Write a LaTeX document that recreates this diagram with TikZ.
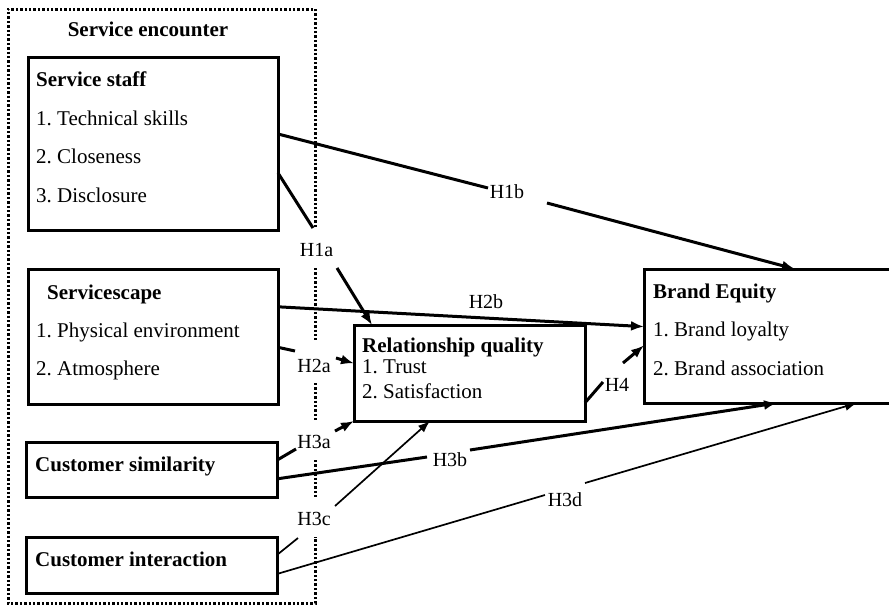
\documentclass[tikz,border=0pt]{standalone}
\usepackage{fontspec}
\setmainfont{Liberation Serif}
\usetikzlibrary{calc,arrows.meta}
\frenchspacing
\begin{document}
\begin{tikzpicture}[x=1pt,y=-1pt,
  every node/.style={font=\fontsize{21}{25}\selectfont},
  box/.style={draw, line width=3pt, inner sep=0pt, outer sep=0pt, anchor=north west},
  txt/.style={anchor=base west, inner sep=0pt},
  btxt/.style={anchor=base west, inner sep=0pt, font=\fontsize{21}{25}\selectfont\bfseries},
  lab/.style={inner sep=1pt, font=\fontsize{20}{24}\selectfont},
  frame/.style={line width=3pt, dash pattern=on 2.4pt off 2pt},
  thickc/.style={line width=3pt},
  thinc/.style={line width=1.7pt},
  arr/.style={-{Latex[length=13pt,width=10pt]}},
  tarr/.style={-{Latex[length=12pt,width=9pt]}}
]
\useasboundingbox (0,0) rectangle (889,606);

% Service encounter frame
\draw[frame] (315,227) -- (315,9) -- (8,9) -- (8,603) -- (315,603) -- (315,537);
\draw[frame] (315,268) -- (315,340);
\draw[frame] (315,383) -- (315,420);
\draw[frame] (315,460) -- (315,497);
\node[anchor=base, inner sep=0pt, font=\fontsize{21}{25}\selectfont\bfseries] (enc) at (148,36) {Service encounter};

% Boxes
\node[box, minimum width=250pt, minimum height=173pt] (ss) at (28,57) {};
\node[box, minimum width=250pt, minimum height=135pt] (sc) at (28,269) {};
\node[box, minimum width=251pt, minimum height=55pt] (cs) at (26,442) {};
\node[box, minimum width=251pt, minimum height=56pt] (ci) at (26,537) {};
\node[box, minimum width=231pt, minimum height=96pt] (rq) at (354,325) {};
\node[box, draw=none, minimum width=260pt, minimum height=134pt] (be) at (644,269) {};
\draw[line width=3pt] (be.north east) -- (be.north west) -- (be.south west) -- (be.south east);

% Box texts
\node[btxt] (ssT) at (36,86) {Service staff};
\node[txt] (ss1) at (36,125) {1. Technical skills};
\node[txt] (ss2) at (36,163) {2. Closeness};
\node[txt] (ss3) at (36,202) {3. Disclosure};

\node[btxt] (scT) at (47,299) {Servicescape};
\node[txt] (sc1) at (36,337) {1. Physical environment};
\node[txt] (sc2) at (36,375) {2. Atmosphere};

\node[btxt] (csT) at (35,471) {Customer similarity};
\node[btxt] (ciT) at (35,566) {Customer interaction};

\node[btxt] (rqT) at (362,352) {Relationship quality};
\node[txt] (rq1) at (362,373) {1. Trust};
\node[txt] (rq2) at (362,398) {2. Satisfaction};

\node[btxt] (beT) at (653,298) {Brand Equity};
\node[txt] (be1) at (653,336) {1. Brand loyalty};
\node[txt] (be2) at (653,375) {2. Brand association};

% Labels
\node[lab] (h1a) at (316.5,250) {H1a};
\node[lab] (h1b) at (507,192) {H1b};
\node[lab] (h2a) at (314,366) {H2a};
\node[lab] (h2b) at (486,302) {H2b};
\node[lab] (h3a) at (314,442) {H3a};
\node[lab] (h3b) at (450,460) {H3b};
\node[lab] (h3c) at (314,519) {H3c};
\node[lab] (h3d) at (565,500) {H3d};
\node[lab] (h4) at (617,385) {H4};

% H1b
\draw[thickc] ($(ss.north east)!0.445!(ss.south east)$) -- ($(h1b)+(-19,-4)$);
\draw[thickc,arr] ($(h1b)+(40,11)$) -- ($(be.north west)+(151,0)$);
% H1a
\draw[thickc] ($(ss.north east)!0.67!(ss.south east)$) -- ($(h1a)+(-3.5,-22)$);
\draw[thickc,arr] ($(h1a)+(20.5,18)$) -- ($(rq.north west)+(18,0)$);
% H2b
\draw[thickc,arr] ($(sc.north east)!0.28!(sc.south east)$) -- ($(be.north west)!0.43!(be.south west)$);
% H2a
\draw[thickc] ($(sc.north east)!0.58!(sc.south east)$) -- ($(h2a)+(-19,-15)$);
\draw[thickc,arr] ($(h2a)+(22,-8)$) -- ($(rq.north west)!0.4!(rq.south west)$);
% H3a
\draw[thickc] ($(cs.north east)!0.33!(cs.south east)$) -- ($(h3a)+(-18,7)$);
\draw[thickc,arr] ($(h3a)+(21,-11)$) -- (rq.south west);
% H3b
\draw[thickc] ($(cs.north east)!0.67!(cs.south east)$) -- ($(h3b)+(-23,-3)$);
\draw[thickc,arr] ($(h3b)+(20,-10)$) -- ($(be.south west)+(133,0)$);
% H3c
\draw[thinc] ($(ci.north east)!0.32!(ci.south east)$) -- ($(h3c)+(-16,19)$);
\draw[thinc,tarr] ($(h3c)+(21,-13)$) -- ($(rq.south west)+(76,0)$);
% H3d
\draw[thinc] ($(ci.north east)!0.66!(ci.south east)$) -- ($(h3d)+(-20,-5)$);
\draw[thinc,tarr] ($(h3d)+(20,-17)$) -- ($(be.south west)+(213,0)$);
% H4
\draw[thickc] ($(rq.north east)!0.81!(rq.south east)$) -- ($(h4)+(-14,-3)$);
\draw[thickc,arr] ($(h4)+(6,-22)$) -- ($(be.north west)!0.57!(be.south west)$);
\end{tikzpicture}
\end{document}
